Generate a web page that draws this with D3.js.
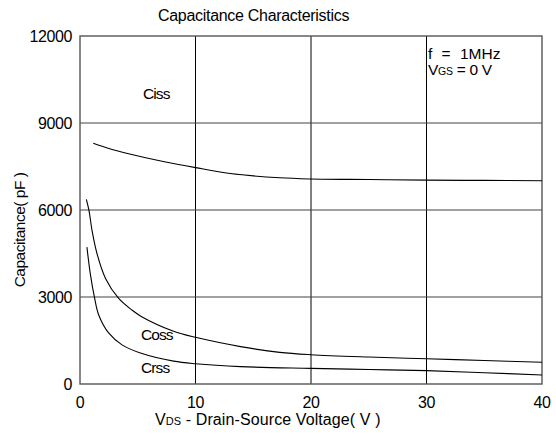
<!DOCTYPE html>
<html>
<head>
<meta charset="utf-8">
<script src="https://cdn.jsdelivr.net/npm/d3@7"></script>
<style>
  body { margin: 0; background: #fff; }
  text { font-family: "Liberation Sans", Arial, sans-serif; fill: #000; }
</style>
</head>
<body>
<svg id="chart" width="556" height="435"></svg>
<script>
// values: V (volts), C (pF)
var cissV = [1.15, 2.5, 4.3, 7.2, 10, 13, 17.3, 20, 25, 30, 35, 40];
var cissC = [8300, 8120, 7930, 7670, 7460, 7260, 7110, 7070, 7050, 7030, 7020, 7010];

var cossV = [0.55, 0.78, 1.04, 1.47, 2.2, 3.35, 4.5, 5.3, 8.1, 10, 13.9, 17.3, 20, 25, 30, 35, 40];
var cossC = [6370, 5980, 5300, 4500, 3650, 2950, 2550, 2330, 1820, 1610, 1290, 1090, 1010, 930, 870, 810, 750];

var crssV = [0.6, 0.9, 1.27, 1.62, 2.48, 3.64, 5.3, 8.1, 10, 13.9, 20, 25, 30, 35, 40];
var crssC = [4720, 3780, 2950, 2380, 1760, 1350, 1060, 790, 700, 600, 540, 500, 460, 390, 310];

var xTicks = [0, 10, 20, 30, 40];
var yTicks = [0, 3000, 6000, 9000, 12000];

var svg = d3.select('#chart');
var plotL = 80, plotR = 542, plotT = 36, plotB = 384;

var x = d3.scaleLinear().domain([0, 40]).range([plotL, plotR]);
var y = d3.scaleLinear().domain([0, 12000]).range([plotB, plotT]);

// grid
svg.selectAll('.vgrid')
  .data(xTicks.slice(1, -1))
  .enter()
  .append('line')
  .attr('x1', d => x(d)).attr('x2', d => x(d))
  .attr('y1', plotT).attr('y2', plotB)
  .attr('stroke', '#000').attr('stroke-width', 1);

svg.selectAll('.hgrid')
  .data(yTicks.slice(1, -1))
  .enter()
  .append('line')
  .attr('x1', plotL).attr('x2', plotR)
  .attr('y1', d => y(d)).attr('y2', d => y(d))
  .attr('stroke', '#444').attr('stroke-width', 1.2);

// frame
svg.append('rect')
  .attr('x', plotL).attr('y', plotT)
  .attr('width', plotR - plotL).attr('height', plotB - plotT)
  .attr('fill', 'none').attr('stroke', '#555').attr('stroke-width', 1.4);

// tick labels
svg.selectAll('.xt')
  .data(xTicks)
  .enter()
  .append('text')
  .attr('x', d => x(d))
  .attr('y', 408)
  .attr('text-anchor', 'middle')
  .attr('font-size', 16)
  .attr('letter-spacing', -0.3)
  .text(d => d);

svg.selectAll('.yt')
  .data(yTicks)
  .enter()
  .append('text')
  .attr('x', plotL - 8)
  .attr('y', d => y(d) + 6)
  .attr('text-anchor', 'end')
  .attr('font-size', 16)
  .attr('letter-spacing', -0.4)
  .text(d => d);

// curves
var line = d3.line()
  .x(d => x(d[0]))
  .y(d => y(d[1]))
  .curve(d3.curveCatmullRom.alpha(0.5));

[[cissV, cissC], [cossV, cossC], [crssV, crssC]].forEach(function(s) {
  svg.append('path')
    .datum(d3.zip(s[0], s[1]))
    .attr('d', line)
    .attr('fill', 'none')
    .attr('stroke', '#000')
    .attr('stroke-width', 1.1);
});

// labels
function label(tx, ty, str, size) {
  return svg.append('text')
    .attr('x', tx).attr('y', ty)
    .attr('font-size', size || 15)
    .attr('letter-spacing', -0.9)
    .text(str);
}

label(158, 21, 'Capacitance Characteristics', 16).attr('letter-spacing', -0.3);
label(143, 99, 'Ciss', 15.5);
label(141, 340, 'Coss', 15.5);
label(141, 373, 'Crss', 15.5);
label(428, 59, 'f = 1MHz', 15.5).attr('letter-spacing', 0).attr('word-spacing', 5);

var vgs = svg.append('text')
  .attr('x', 428).attr('y', 75)
  .attr('font-size', 15.5)
  .attr('letter-spacing', -0.3);
vgs.append('tspan').text('V');
vgs.append('tspan').attr('font-size', 10.5).text('GS');
vgs.append('tspan').text(' = 0 V');

var xl = svg.append('text')
  .attr('x', 155).attr('y', 425)
  .attr('font-size', 16)
  .attr('letter-spacing', 0.1);
xl.append('tspan').text('V');
xl.append('tspan').attr('font-size', 11).text('DS');
xl.append('tspan').text(' - Drain-Source Voltage( V )');

svg.append('text')
  .attr('transform', 'translate(25,230) rotate(-90)')
  .attr('text-anchor', 'middle')
  .attr('font-size', 15.5)
  .attr('letter-spacing', -0.5)
  .text('Capacitance( pF )');
</script>
</body>
</html>
